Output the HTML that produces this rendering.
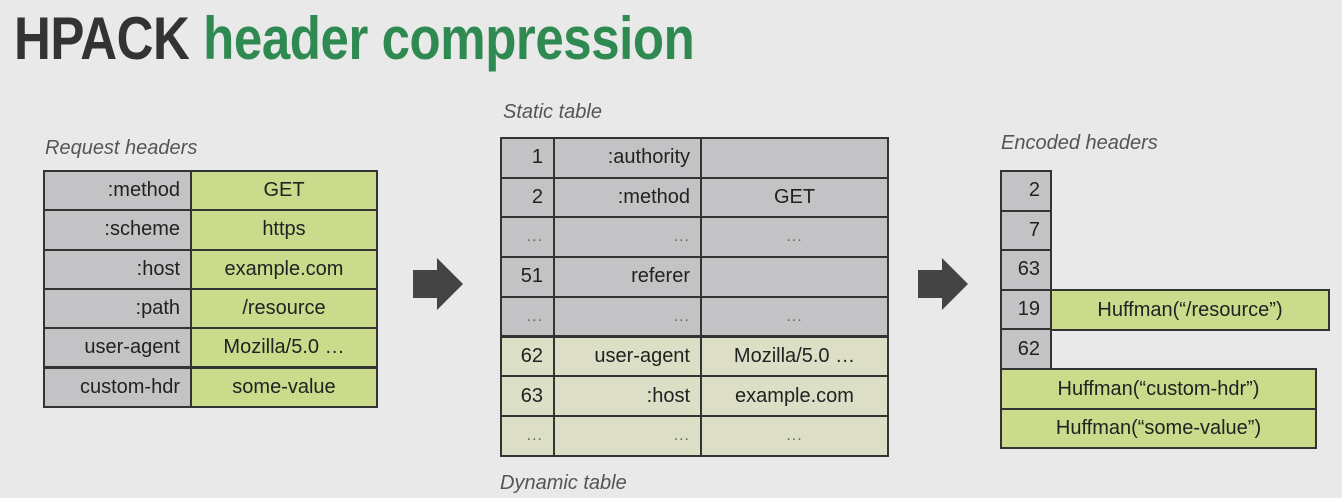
<!DOCTYPE html>
<html><head><meta charset="utf-8"><style>
body{margin:0;width:1342px;height:498px;background:#e9e9e9;overflow:hidden;font-family:"Liberation Sans",sans-serif;position:relative}
.t{position:absolute;left:14px;top:4px;font-size:60px;font-weight:bold;white-space:nowrap;transform:scaleX(0.85);transform-origin:0 0;letter-spacing:-0.5px}
.lab{position:absolute;font-style:italic;color:#555;font-size:20px}
.c{position:absolute;box-sizing:border-box;border:2px solid #333;font-size:20px;color:#222;display:flex;align-items:center;padding:0 10px}
.g{background:#c3c3c5}.gr{background:#cadb8c}.p{background:#dcdec6}
.r{justify-content:flex-end}.m{justify-content:center}
.d{color:#666;font-size:16px;letter-spacing:1px}
</style></head><body>
<div class="t"><span style="color:#333">HPACK</span> <span style="color:#2f8a52">header compression</span></div>
<div class="lab" style="left:45px;top:137px">Request headers</div>
<div class="lab" style="left:503px;top:101px">Static table</div>
<div class="lab" style="left:1001px;top:132px">Encoded headers</div>
<div class="lab" style="left:500px;top:472px">Dynamic table</div>
<svg style="position:absolute;left:0;top:0" width="1342" height="498">
<polygon points="413,270 437,270 437,258 463,284 437,310 437,298 413,298" fill="#444"/>
<polygon points="918,270 942,270 942,258 968,284 942,310 942,298 918,298" fill="#444"/>
</svg>
<script>
function c(x,y,w,h,cls,t){var d=document.createElement('div');d.className='c '+cls;d.style.cssText='left:'+x+'px;top:'+y+'px;width:'+(w+2)+'px;height:'+(h+2)+'px';d.innerHTML=t;document.body.appendChild(d);}
var L=[[':method','GET'],[':scheme','https'],[':host','example.com'],[':path','/resource'],['user-agent','Mozilla/5.0 …'],['custom-hdr','some-value']];
L.forEach(function(r,i){var y=170+i*39.3;c(43,y,147,39.3,'g r',r[0]);c(190,y,186,39.3,'gr m',r[1]);});
var D='<span class="d">...</span>';
var S=[['1',':authority',''],['2',':method','GET'],[D,D,D],['51','referer',''],[D,D,D],['62','user-agent','Mozilla/5.0 …'],['63',':host','example.com'],[D,D,D]];
S.forEach(function(r,i){var y=137+i*39.7,k=i<5?'g':'p';c(500,y,53,39.7,k+' r',r[0]);c(553,y,147,39.7,k+' r',r[1]);c(700,y,187,39.7,k+' m',r[2]);});
['2','7','63','19','62'].forEach(function(v,i){c(1000,170+i*39.6,50,39.6,'g r',v);});
c(1050,289,278,40,'gr m','Huffman(“/resource”)');
c(1000,368,315,40,'gr m','Huffman(“custom-hdr”)');
c(1000,408,315,39,'gr m','Huffman(“some-value”)');
</script>
</body></html>
